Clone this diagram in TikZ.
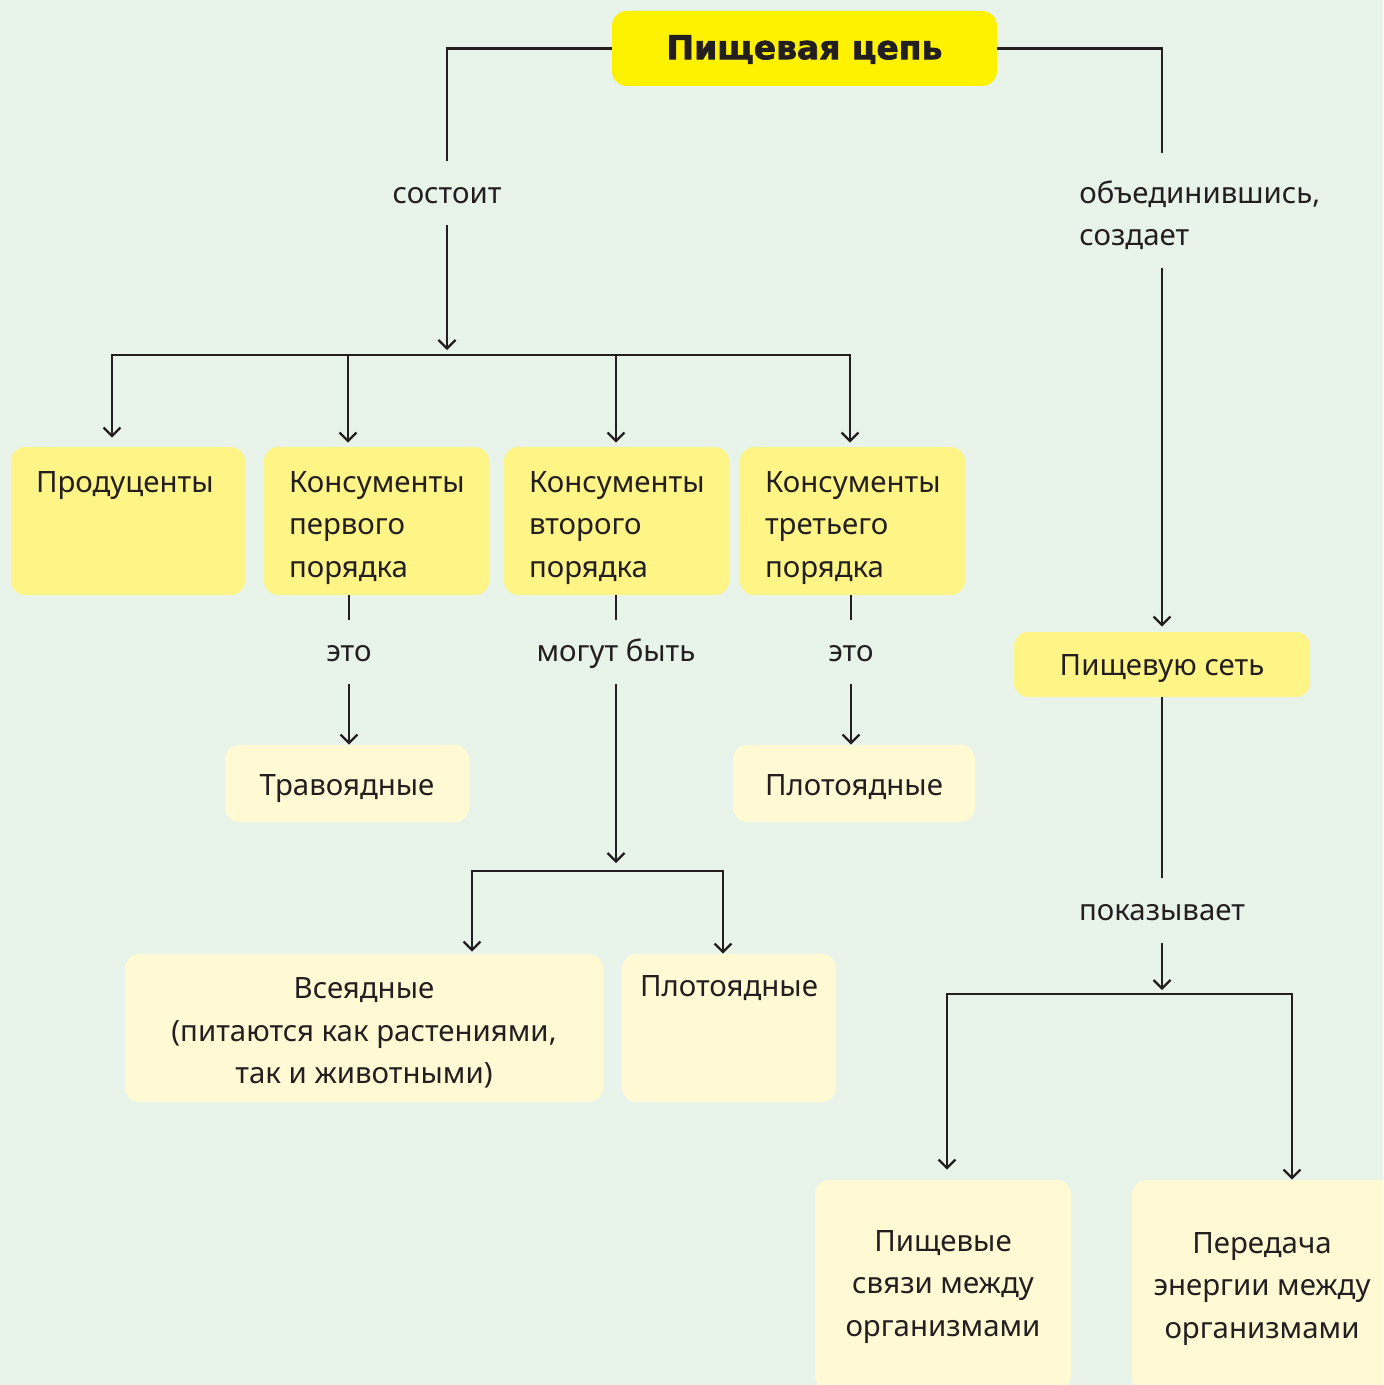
\documentclass[tikz,border=0pt]{standalone}
\usepackage{fontspec}
\setmainfont{Noto Sans}
\newfontfamily\heavyfont[FakeBold=2]{DejaVu Sans}
\usetikzlibrary{arrows.meta}
\definecolor{bg}{HTML}{E8F3EA}
\definecolor{titlec}{HTML}{FFF200}
\definecolor{rowc}{HTML}{FFF587}
\definecolor{lightc}{HTML}{FFFAD4}
\definecolor{ink}{HTML}{231F20}
\newcommand\tdown[1]{\rule{0pt}{#1}}
\tikzset{
  x=0.5pt, y=-0.5pt,
  base/.style={inner sep=0pt, text=ink, font=\fontsize{14.7}{21.25}\selectfont},
  titlebox/.style={base, fill=titlec, rounded corners=7.5pt, minimum width=192.5pt, minimum height=37.5pt, font=\heavyfont\bfseries\fontsize{16.5}{20}\selectfont},
  rowbox/.style={base, rounded corners=7pt, minimum height=74pt, fill=rowc, text width=#1, inner xsep=12.5pt, align=left},
  lightbox/.style={base, fill=lightc, rounded corners=7pt, align=center},
  lbl/.style={base, fill=none, align=center, minimum height=#1},
  ln/.style={draw=ink, line width=1.15pt, line join=miter},
  arr/.style={ln, -{Straight Barb[length=4.2pt, width=8.5pt, line width=1.15pt]}},
  arrb/.style={ln, {Straight Barb[length=4.2pt, width=8.5pt, line width=1.15pt]}-{Straight Barb[length=4.2pt, width=8.5pt, line width=1.15pt]}},
}
\begin{document}
\begin{tikzpicture}
\useasboundingbox (0,0) rectangle (1383,1385);
\fill[bg] (0,0) rectangle (1383,1385);
\clip (0,0) rectangle (1383,1385);

% boxes
\node[titlebox] (title) at (804.5,48.5) {\tdown{13pt}Пищевая цепь};
\node[rowbox=92pt] (prod) at (128,521) {\tdown{20.5pt}Продуценты\\\strut\\\strut};
\node[rowbox=87.5pt] (k1) at (376.5,521) {\tdown{17.5pt}Консументы\\первого\\порядка};
\node[rowbox=87.5pt] (k2) at (616.5,521) {\tdown{17.5pt}Консументы\\второго\\порядка};
\node[rowbox=87.5pt] (k3) at (852.5,521) {\tdown{17.5pt}Консументы\\третьего\\порядка};
\node[lightbox, minimum width=122pt, minimum height=38.5pt] (trav) at (347,783.5) {\tdown{15.5pt}Травоядные};
\node[lightbox, minimum width=121pt, minimum height=38.5pt] (plot1) at (854,783.5) {\tdown{14.5pt}Плотоядные};
\node[lightbox, minimum width=239pt, minimum height=74pt] (vse) at (364,1028) {\tdown{15.5pt}Всеядные\\(питаются как растениями,\\так и животными)};
\node[lightbox, minimum width=107pt, minimum height=74pt] (plot2) at (729,1028) {\tdown{17.5pt}Плотоядные\\\strut\\\strut};
\node[base, fill=rowc, rounded corners=7pt, minimum width=148pt, minimum height=32.5pt] (pe) at (1162,664.5) {\tdown{14.5pt}Пищевую сеть};
\node[lightbox, minimum width=128pt, minimum height=105pt] (ps) at (943,1285) {\tdown{12.5pt}Пищевые\\связи между\\организмами};
\node[lightbox, minimum width=130pt, minimum height=106pt] (pd) at (1262,1286) {\tdown{13.5pt}Передача\\энергии между\\организмами};

% labels
\node[lbl=32pt] (sost) at (447,193) {\tdown{10.9pt}состоит};
\node[lbl=57.5pt, anchor=west, align=left] (obj) at (1079,210.5) {\tdown{16.2pt}объединившись,\\создает};
\node[lbl=31.5pt] (eto1) at (349,652) {\tdown{9.9pt}это};
\node[lbl=31.5pt] (mog) at (616,652) {\tdown{13.2pt}могут быть};
\node[lbl=31.5pt] (eto2) at (851,652) {\tdown{9.9pt}это};
\node[lbl=32.5pt] (pok) at (1162,910.5) {\tdown{9.9pt}показывает};

% junctions
\coordinate (jA) at (447,355);
\coordinate (c1) at (112,355);
\coordinate (c2) at (348,355);
\coordinate (c3) at (616,355);
\coordinate (c4) at (850,355);
\coordinate (jB) at (616,871);
\coordinate (b1) at (472,871);
\coordinate (b2) at (723,871);
\coordinate (jC) at (1162,994);
\coordinate (e1) at (947,994);
\coordinate (e2) at (1292,994);

% connectors top
\draw[ln] (title.west) -| (sost.north);
\draw[arr, shorten >=2.5pt] (sost.south) -- (jA);
\draw[arrb, shorten <=4.5pt, shorten >=2pt] (c1 |- prod.north) -- (c1) -- (c4) -- (c4 |- k3.north);
\draw[arr, shorten >=2pt] (c2) -- (c2 |- k1.north);
\draw[arr, shorten >=2pt] (c3) -- (c3 |- k2.north);

\draw[ln] (title.east) -| (pe.north |- obj.north);
\draw[arr, shorten >=2.5pt] (pe.north |- obj.south) -- (pe.north);

% middle
\draw[ln] (eto1.north |- k1.south) -- (eto1.north);
\draw[arr] (eto1.south) -- (eto1.south |- trav.north);
\draw[ln] (mog.north |- k2.south) -- (mog.north);
\draw[arr, shorten >=4pt] (mog.south) -- (jB);
\draw[arrb, shorten <=1pt] (b1 |- vse.north) -- (b1) -- (b2) -- (b2 |- plot2.north);
\draw[ln] (eto2.north |- k3.south) -- (eto2.north);
\draw[arr] (eto2.south) -- (eto2.south |- plot1.north);

% right
\draw[ln] (pe.south) -- (pok.north);
\draw[arr, shorten >=2pt] (pok.south) -- (jC);
\draw[arrb, shorten <=5pt] (e1 |- ps.north) -- (e1) -- (e2) -- (e2 |- pd.north);
\end{tikzpicture}
\end{document}
